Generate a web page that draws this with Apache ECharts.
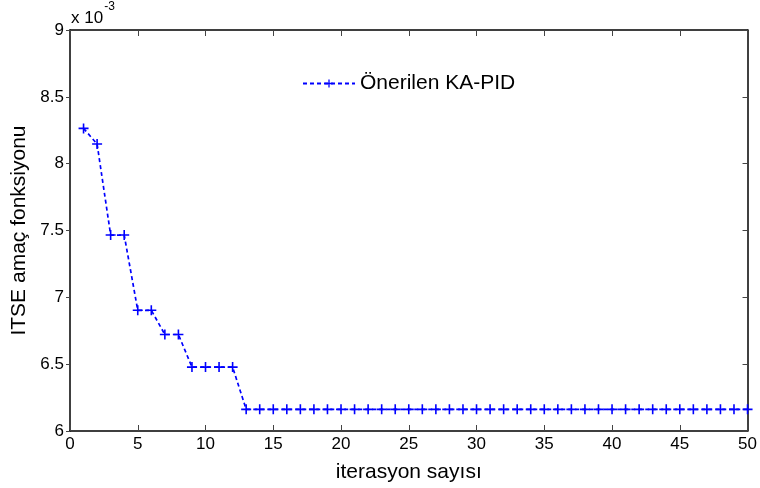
<!DOCTYPE html>
<html>
<head>
<meta charset="utf-8">
<script src="https://cdn.jsdelivr.net/npm/echarts@6/dist/echarts.min.js"></script>
<style>
  html, body { margin: 0; padding: 0; background: #fff; }
  #main { width: 760px; height: 488px; }
</style>
</head>
<body>
<div id="main"></div>
<script>
// ITSE values per iteration, in units of 1e-3
const itseValues = [
  8.264, 8.147, 7.466, 7.466, 6.903, 6.903, 6.722, 6.722, 6.478, 6.478,
  6.478, 6.478, 6.162, 6.162, 6.162, 6.162, 6.162, 6.162, 6.162, 6.162,
  6.162, 6.162, 6.162, 6.162, 6.162, 6.162, 6.162, 6.162, 6.162, 6.162,
  6.162, 6.162, 6.162, 6.162, 6.162, 6.162, 6.162, 6.162, 6.162, 6.162,
  6.162, 6.162, 6.162, 6.162, 6.162, 6.162, 6.162, 6.162, 6.162, 6.162
]
const seriesName = 'Önerilen KA-PID'
const xTitle = 'iterasyon sayısı'
const yTitle = 'ITSE amaç fonksiyonu'

const fontFam = 'Liberation Sans, Arial, sans-serif'
// "+" marker like matlab
const plus = 'path://M4.2,0H5.8V4.2H10V5.8H5.8V10H4.2V5.8H0V4.2H4.2Z'

var myChart = echarts.init(document.getElementById('main'))

const pts = itseValues.map((v, i) => [i + 1, v])

const axisLine = { show: true, onZero: false, lineStyle: { color: '#000', width: 1.5 } }

var option = {
  animation: false,
  backgroundColor: '#fff',
  textStyle: { fontFamily: fontFam },
  grid: { left: 70, right: 8, top: 30, bottom: 56, containLabel: false },
  legend: {
    left: 297,
    top: 68,
    itemWidth: 52,
    itemHeight: 10,
    itemGap: 6,
    data: [{ name: seriesName }],
    textStyle: { fontSize: 21, color: '#000', fontFamily: fontFam }
  },
  graphic: [
    {
      type: 'text',
      left: 71,
      top: 1,
      style: {
        text: '{a|x 10}{b|-3}',
        rich: {
          a: { fontSize: 17, fontFamily: fontFam, fill: '#000', padding: [9, 0, 0, 0] },
          b: { fontSize: 12, fontFamily: fontFam, fill: '#000', verticalAlign: 'top', padding: [0, 0, 9, 1] }
        }
      }
    }
  ],
  xAxis: [
    {
      type: 'value',
      min: 0,
      max: 50,
      interval: 5,
      name: xTitle,
      nameLocation: 'middle',
      nameGap: 31,
      nameTextStyle: { fontSize: 21, color: '#000' },
      axisLine: axisLine,
      axisTick: { show: true, inside: true, length: 6, lineStyle: { color: '#444' } },
      axisLabel: { fontSize: 17, color: '#000', margin: 5 },
      splitLine: { show: false }
    },
    {
      type: 'value',
      position: 'top',
      min: 0,
      max: 50,
      interval: 5,
      axisLine: axisLine,
      axisTick: { show: true, inside: true, length: 6, lineStyle: { color: '#444' } },
      axisLabel: { show: false },
      splitLine: { show: false }
    }
  ],
  yAxis: [
    {
      type: 'value',
      min: 6,
      max: 9,
      interval: 0.5,
      name: yTitle,
      nameLocation: 'middle',
      nameGap: 38,
      nameRotate: 90,
      nameTextStyle: { fontSize: 21, color: '#000' },
      axisLine: axisLine,
      axisTick: { show: true, inside: false, length: 4, lineStyle: { color: '#444' } },
      axisLabel: { fontSize: 17, color: '#000', margin: 6, formatter: v => String(+v.toFixed(1)) },
      splitLine: { show: false }
    },
    {
      type: 'value',
      position: 'right',
      min: 6,
      max: 9,
      interval: 0.5,
      axisLine: axisLine,
      axisTick: { show: true, inside: true, length: 5, lineStyle: { color: '#444' } },
      axisLabel: { show: false },
      splitLine: { show: false }
    }
  ],
  series: [
    {
      name: seriesName,
      type: 'line',
      xAxisIndex: 0,
      yAxisIndex: 0,
      data: pts,
      symbol: plus,
      symbolSize: 10,
      showAllSymbol: true,
      itemStyle: { color: '#0000ff' },
      lineStyle: { color: '#0000ff', width: 1.7, type: [4, 3] }
    }
  ]
}

myChart.setOption(option)
</script>
</body>
</html>
